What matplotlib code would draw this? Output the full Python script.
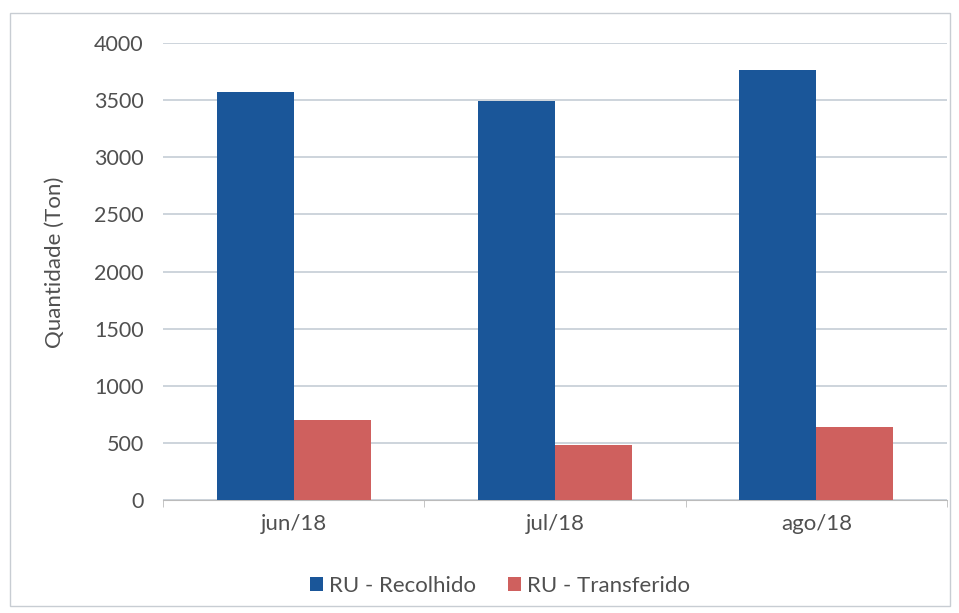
import matplotlib
matplotlib.use("Agg")
import matplotlib.pyplot as plt
from matplotlib.patches import Rectangle
import numpy as np

categories = ["jun/18", "jul/18", "ago/18"]
recolhido = [3570, 3490, 3765]
transferido = [703, 485, 638]
series_names = ["RU - Recolhido", "RU - Transferido"]
yticks = [0, 500, 1000, 1500, 2000, 2500, 3000, 3500, 4000]

plt.rcParams['font.family'] = ['Lato', 'DejaVu Sans']

fig = plt.figure(figsize=(9.59, 6.13), dpi=100)
ax = fig.add_axes([163/959, 1-500/613, (947-163)/959, (500-43)/613])

x = np.arange(len(categories))
w = 0.295
blue = "#1A5699"
red = "#CF605E"
ax.bar(x - w/2, recolhido, width=w, color=blue, label=series_names[0], zorder=3)
ax.bar(x + w/2, transferido, width=w, color=red, label=series_names[1], zorder=3)

txt = "#505050"
ax.set_xlim(-0.5, len(categories) - 0.5)
ax.set_ylim(0, 4000)
ax.set_yticks(yticks)
ax.set_yticklabels([str(t) for t in yticks], fontsize=15.5, color=txt)
ax.yaxis.grid(True, color="#C5CDD6", linewidth=1.2, zorder=0)
ax.tick_params(axis='y', length=0, pad=14)
ax.set_xticks(x)
ax.set_xticklabels(categories, fontsize=16, color=txt)
ax.set_xticks(np.arange(len(categories) + 1) - 0.5, minor=True)
ax.tick_params(axis='x', which='major', length=0, pad=10)
ax.tick_params(axis='x', which='minor', length=5, color="#BBBBBB")
for s in ['top', 'right', 'left']:
    ax.spines[s].set_visible(False)
ax.spines['bottom'].set_color("#BBBBBB")
ax.set_ylabel("Quantidade (Ton)", fontsize=16, color=txt)
ax.yaxis.set_label_coords(-0.125, 0.52)

fig.legend(loc='center', bbox_to_anchor=(500/959, 1-586/613), ncol=2, frameon=False,
           fontsize=16, handlelength=0.58, handleheight=0.58, handletextpad=0.25,
           columnspacing=1.45, labelcolor=txt)

fig.patches.append(Rectangle((10/959, 1-606/613), (950-10)/959, (606-13)/613,
                             transform=fig.transFigure, fill=False,
                             edgecolor="#C8CDD3", linewidth=1.0))

fig.savefig("out.png", dpi=100, facecolor="white")
